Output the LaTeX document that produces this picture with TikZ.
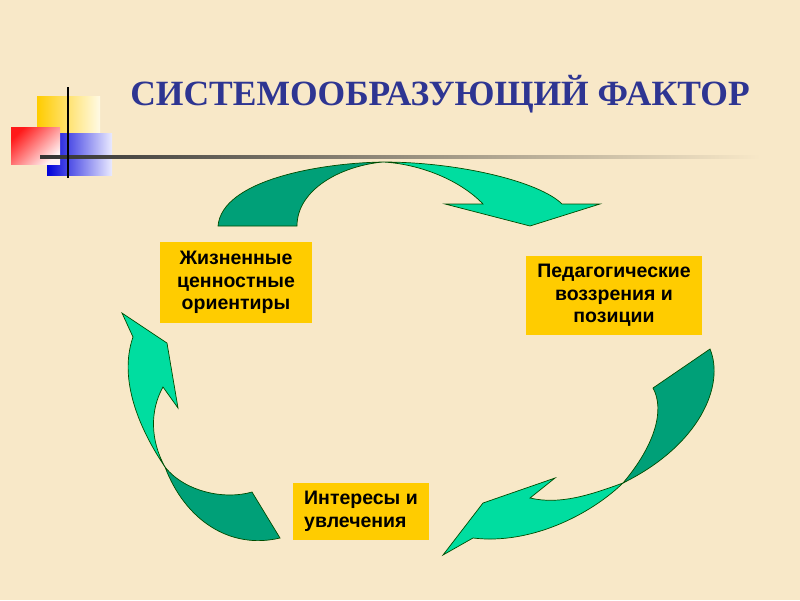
\documentclass[tikz,border=0pt]{standalone}
\usepackage{fontspec}
\setmainfont{Liberation Sans}
\newfontfamily\titlefont{Liberation Serif}
\begin{document}
\begin{tikzpicture}[x=1pt,y=-1pt]
\definecolor{bg}{HTML}{F8E8C8}
\definecolor{gold}{HTML}{FFCC00}
\definecolor{lgreen}{HTML}{00DDA0}
\definecolor{dgreen}{HTML}{00A078}
\definecolor{tblue}{HTML}{2E3592}
\tikzset{box/.style={fill=gold,align=center,font=\bfseries\fontsize{19.5}{22.5}\selectfont,inner sep=0pt},
 arr/.style={draw=black!70!green,line width=0.7pt}}
\fill[bg] (0,0) rectangle (800,600);
\useasboundingbox (0,0) rectangle (800,600);
% decoration
\shade[left color=gold,right color=gold!10] (37,96) rectangle (100,135);
\shade[left color=blue!85!black,right color=blue!8] (47,133) rectangle (112,175);
\shade[top color=red!90,bottom color=red!5,shading angle=45] (11,127) rectangle (60,164);
\shade[left color=black!80,right color=bg] (40,155.5) rectangle (760,158.5);
\draw[line width=1.5pt] (68,87) -- (68,178);
\node[font=\titlefont\bfseries\fontsize{35.5}{38}\selectfont,text=tblue,anchor=center] (title) at (440,94) {СИСТЕМООБРАЗУЮЩИЙ ФАКТОР};
% boxes
\node[box,minimum width=152,minimum height=81] (b1) at (236,282.5) {Жизненные\\ценностные\\ориентиры};
\node[box,minimum width=176,minimum height=79] (b2) at (614,295.5) {Педагогические\\воззрения и\\позиции};
\node[box,minimum width=136,minimum height=57,align=left] (b3) at (361,511.5) {Интересы и\\увлечения};
% top arrow
\filldraw[arr,fill=dgreen] (218,226) .. controls (222,180) and (320,163) .. (383,162)
  .. controls (340,166) and (297,190) .. (297,226) -- cycle;
\filldraw[arr,fill=lgreen] (383,162) .. controls (460,162) and (540,182) .. (562,204) -- (600,204) -- (530,226) -- (445,204) -- (483,204) .. controls (460,180) and (420,164) .. (383,162) -- cycle;
% right arrow
\filldraw[arr,fill=dgreen] (710,349) .. controls (725,385) and (700,445) .. (623,483)
  .. controls (655,445) and (665,410) .. (653,388) -- cycle;
\filldraw[arr,fill=lgreen] (623,483) .. controls (590,495) and (560,505) .. (530,498) -- (555,478) -- (483,503) -- (443,555) -- (473,538) .. controls (530,545) and (590,515) .. (623,483) -- cycle;
% left arrow
\filldraw[arr,fill=lgreen] (122,313) -- (167,343) -- (178,408) -- (163,387) .. controls (150,410) and (150,440) .. (165,467)
  .. controls (140,430) and (118,380) .. (133,337) -- cycle;
\filldraw[arr,fill=dgreen] (165,467) .. controls (185,492) and (225,500) .. (252,492) -- (280,538) .. controls (230,550) and (185,520) .. (165,467) -- cycle;
\end{tikzpicture}
\end{document}
